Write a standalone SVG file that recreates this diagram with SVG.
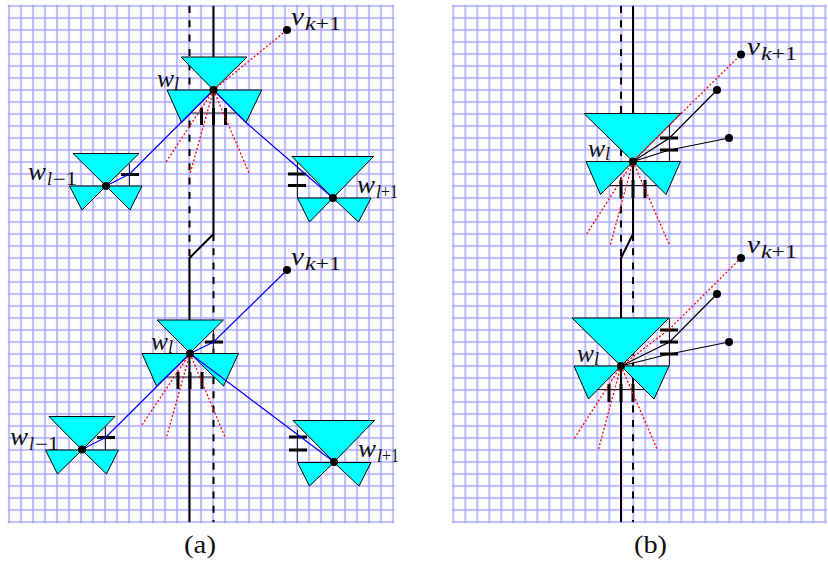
<svg xmlns="http://www.w3.org/2000/svg" width="828" height="564" viewBox="0 0 828 564">
<defs>
<pattern id="g" x="3" y="0" width="12" height="12" patternUnits="userSpaceOnUse"><path d="M0 6H12M6 0V12" fill="none" stroke="#e6e6ff" stroke-width="2.6"/><path d="M0 6H12M6 0V12" fill="none" stroke="#9c9cff" stroke-width="1"/></pattern>
<pattern id="g2" x="447.300" y="0" width="12" height="12" patternUnits="userSpaceOnUse"><path d="M0 6H12M6 0V12" fill="none" stroke="#e6e6ff" stroke-width="2.6"/><path d="M0 6H12M6 0V12" fill="none" stroke="#9c9cff" stroke-width="1"/></pattern>
</defs>
<style>
.tri{fill:#00ffff;stroke:#000;stroke-width:1;stroke-linejoin:miter}
.s{stroke:#000;stroke-width:2;fill:none}
.d{stroke:#000;stroke-width:2;fill:none;stroke-dasharray:7 7.300}
.thin{stroke:#222;stroke-width:1;fill:none}
.tick{stroke:#000;stroke-width:3;fill:none}
.blue{stroke:#0000ff;stroke-width:1.2;fill:none}
.blk{stroke:#000;stroke-width:1.2;fill:none}
.red{stroke:#ff0000;stroke-width:1.3;fill:none;stroke-dasharray:2 2}
.pt{fill:#000}
text{font-family:"Liberation Serif",serif;fill:#111}
.m{font-style:italic;font-size:25px}
.sub{font-style:italic;font-size:18px}
.n{font-size:18px}
.cap{font-size:25px}
</style>
<g id="grid-a"><rect x="7.700" y="4.700" width="386.600" height="518.600" fill="url(#g)"/></g>
<g id="grid-b"><rect x="452" y="4.700" width="375" height="518.600" fill="url(#g2)"/></g>

<g id="connectors">
<path class="d" d="M189.500 6V258"/>
<path class="s" d="M213.500 6V234L189.500 258V522"/>
<path class="d" d="M213.500 234V522"/>
<path class="d" d="M621 6V258"/>
<path class="s" d="M633 6V234L621 258V522"/>
<path class="d" d="M633 234V522"/>
</g>

<g id="a-top">
<path class="thin" d="M190 113H237"/>
<path class="tick" d="M201.500 108V125M213.500 108V125M225.500 108V125"/>
<path class="tri" d="M181 57H247L213.500 90Z"/>
<path class="tri" d="M167 90H261.700L246 122.700L213.500 90L181.700 122.700Z"/>
<path class="blue" d="M213.500 90L129.500 174M213.500 90L246 122.500L297 166.800"/>
<path class="red" d="M213.500 90L287 30M213.500 90L166 162M213.500 90L190 174M213.500 90L249 173"/>
<circle class="pt" cx="213.500" cy="90" r="4"/><circle class="pt" cx="287" cy="30" r="4"/>
</g>
<g id="a-top-left">
<path class="thin" d="M129.500 164V186"/><path class="tick" d="M121 174.500H139"/>
<path class="tri" d="M73 153.500H139L106 186Z"/>
<path class="tri" d="M69.500 186H142L130 210L106 186L82 210Z"/>
<path class="blue" d="M129.500 174L106 186"/>
<circle class="pt" cx="106" cy="186" r="4"/>
</g>
<g id="a-top-right">
<path class="thin" d="M297.500 162V198"/><path class="tick" d="M288 174H306M288 185.500H306"/>
<path class="tri" d="M292 156.500H373.500L333 198Z"/>
<path class="tri" d="M297.500 198H371L358.500 222L333 198L309.500 222Z"/>
<path class="blue" d="M297 166.800L333 198"/>
<circle class="pt" cx="333" cy="198" r="4"/>
</g>

<g id="a-bot">
<path class="thin" d="M166 377H213M213.500 330V353"/>
<path class="tick" d="M178 372V389M190 372V389M202 372V389M205 342H223"/>
<path class="tri" d="M157 320H223.500L190 353Z"/>
<path class="tri" d="M142 353.500H238.500L223.500 386L190 353.500L156.500 386Z"/>
<path class="blue" d="M190 353.500L213.500 342L287 270M190 353.500L105.500 437.500M190 353.500L297.500 434.500"/>
<path class="red" d="M190 353.500L142 425M190 353.500L166 439M190 353.500L225 437"/>
<circle class="pt" cx="190" cy="353.500" r="4"/><circle class="pt" cx="287" cy="270" r="4"/>
</g>
<g id="a-bot-left">
<path class="thin" d="M105.500 427V450"/><path class="tick" d="M97 437.500H115"/>
<path class="tri" d="M49 416.500H115L82 450Z"/>
<path class="tri" d="M45.500 450H118.500L106.500 474L82 450L57.500 474Z"/>
<path class="blue" d="M105.500 437.500L82 449.500"/>
<circle class="pt" cx="82" cy="449.500" r="4"/>
</g>
<g id="a-bot-right">
<path class="thin" d="M297.500 430V462"/><path class="tick" d="M289 437H307M289 450H307"/>
<path class="tri" d="M293 420.500H374.500L334 462Z"/>
<path class="tri" d="M297.500 462.500H371L359 486L334 462.500L309.500 486Z"/>
<path class="blue" d="M297.500 434.500L334 462"/>
<circle class="pt" cx="334" cy="462" r="4"/>
</g>

<g id="b-top">
<path class="thin" d="M610 185.500H657M669.500 125V161.500"/>
<path class="tick" d="M621 180V198M633 180V198M645 180V198M660 138H678M660 150H678"/>
<path class="tri" d="M584 113.500H681L633 161.500Z"/>
<path class="tri" d="M586 161.500H680.500L666 194.500L633 161.500L600.500 194.500Z"/>
<path class="blk" d="M633 161.500L669.500 138L717 90M633 161.500L669.500 150L729 138"/>
<path class="red" d="M633 161.500L681 113.500L741 54.500M633 161.500L586 235M633 161.500L610 246M633 161.500L669.500 245"/>
<circle class="pt" cx="633" cy="161.500" r="4"/><circle class="pt" cx="741" cy="54.500" r="4"/><circle class="pt" cx="717" cy="90" r="4"/><circle class="pt" cx="729" cy="138" r="4"/>
</g>
<g id="b-bot">
<path class="thin" d="M597 389.500H645M669.500 318V366"/>
<path class="tick" d="M609 384V402M621 384V402M633 384V402M660 330H678M660 342H678M660 354H678"/>
<path class="tri" d="M572 318H669L621 366Z"/>
<path class="tri" d="M574 366H669L654 399L621 366L588.500 399Z"/>
<path class="blk" d="M621 366L669.500 342L717 294M621 366L669.500 354L729 342"/>
<path class="red" d="M621 366L669.500 329L741 258M621 366L574 439M621 366L598 451M621 366L657 449"/>
<circle class="pt" cx="621" cy="366" r="4"/><circle class="pt" cx="741" cy="258" r="4"/><circle class="pt" cx="717" cy="294" r="4"/><circle class="pt" cx="729" cy="342" r="4"/>
</g>

<g id="labels">
<text class="m" x="291" y="24.500" textLength="13" lengthAdjust="spacingAndGlyphs">v</text><text class="sub" x="305" y="29.500" textLength="36" lengthAdjust="spacingAndGlyphs">k<tspan font-style="normal">+1</tspan></text>
<text class="m" x="291" y="264.500" textLength="13" lengthAdjust="spacingAndGlyphs">v</text><text class="sub" x="305" y="269.500" textLength="36" lengthAdjust="spacingAndGlyphs">k<tspan font-style="normal">+1</tspan></text>
<text class="m" x="747" y="55" textLength="13" lengthAdjust="spacingAndGlyphs">v</text><text class="sub" x="761" y="60" textLength="36" lengthAdjust="spacingAndGlyphs">k<tspan font-style="normal">+1</tspan></text>
<text class="m" x="747" y="253" textLength="13" lengthAdjust="spacingAndGlyphs">v</text><text class="sub" x="761" y="258" textLength="36" lengthAdjust="spacingAndGlyphs">k<tspan font-style="normal">+1</tspan></text>
<text class="m" x="157" y="87" textLength="17" lengthAdjust="spacingAndGlyphs">w</text><text class="sub" x="174" y="90">l</text>
<text class="m" x="151" y="350" textLength="17" lengthAdjust="spacingAndGlyphs">w</text><text class="sub" x="168" y="353">l</text>
<text class="m" x="588" y="157" textLength="17" lengthAdjust="spacingAndGlyphs">w</text><text class="sub" x="605" y="160">l</text>
<text class="m" x="577" y="362" textLength="17" lengthAdjust="spacingAndGlyphs">w</text><text class="sub" x="594" y="365">l</text>
<text class="m" x="28" y="180" textLength="18" lengthAdjust="spacingAndGlyphs">w</text><text class="sub" x="47" y="185">l</text><text class="n" x="53" y="185" textLength="24" lengthAdjust="spacingAndGlyphs">−1</text>
<text class="m" x="10" y="445" textLength="18" lengthAdjust="spacingAndGlyphs">w</text><text class="sub" x="29" y="450">l</text><text class="n" x="35" y="450" textLength="24" lengthAdjust="spacingAndGlyphs">−1</text>
<text class="m" x="357" y="193" textLength="18" lengthAdjust="spacingAndGlyphs">w</text><text class="sub" x="376" y="198">l</text><text class="n" x="381" y="198" textLength="17" lengthAdjust="spacingAndGlyphs">+1</text>
<text class="m" x="358" y="457" textLength="18" lengthAdjust="spacingAndGlyphs">w</text><text class="sub" x="377" y="462">l</text><text class="n" x="382" y="462" textLength="17" lengthAdjust="spacingAndGlyphs">+1</text>
<text class="cap" x="184" y="553" textLength="32" lengthAdjust="spacingAndGlyphs">(a)</text>
<text class="cap" x="634" y="553" textLength="33" lengthAdjust="spacingAndGlyphs">(b)</text>
</g>
</svg>
